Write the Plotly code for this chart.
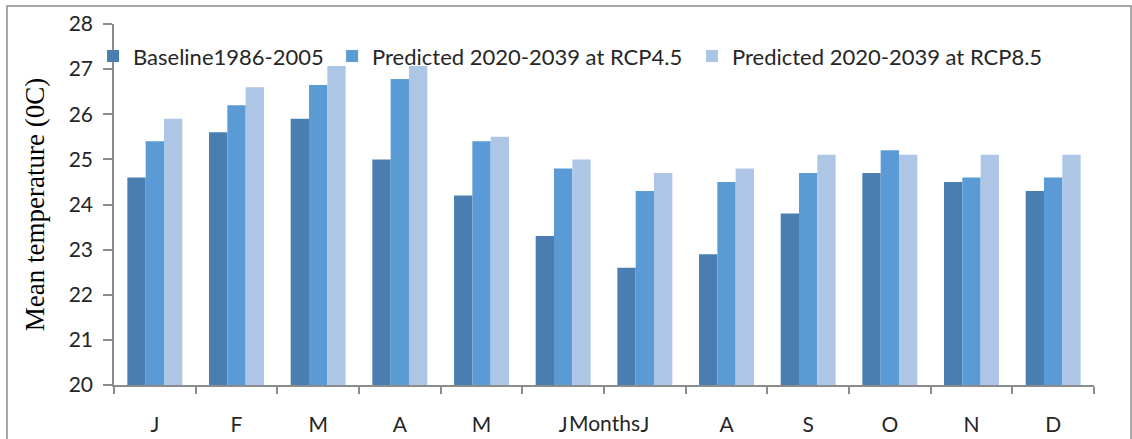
import plotly.graph_objects as go

# Monthly mean temperature (°C): baseline vs. projected scenarios
months = ["J", "F", "M", "A", "M", "J", "J", "A", "S", "O", "N", "D"]
baseline = [24.6, 25.6, 25.9, 25.0, 24.2, 23.3, 22.6, 22.9, 23.8, 24.7, 24.5, 24.3]
rcp45 = [25.4, 26.2, 26.65, 26.78, 25.4, 24.8, 24.3, 24.5, 24.7, 25.2, 24.6, 24.6]
rcp85 = [25.9, 26.6, 27.07, 27.07, 25.5, 25.0, 24.7, 24.8, 25.1, 25.1, 25.1, 25.1]
series_names = [
    "Baseline1986-2005",
    "Predicted 2020-2039 at RCP4.5",
    "Predicted 2020-2039 at RCP8.5",
]
y_ticks = [20, 21, 22, 23, 24, 25, 26, 27, 28]

colors = ["#4A7EB0", "#5B9BD5", "#ADC6E6"]
legend_ids = ["legend", "legend2", "legend3"]
legend_x = [-0.0214, 0.2225, 0.5898]
positions = list(range(len(months)))

axis_gray = "#8C8C8C"
text_col = "#262626"
sans = "Lato"

fig = go.Figure()
for name, vals, col, lg in zip(series_names, [baseline, rcp45, rcp85], colors, legend_ids):
    fig.add_trace(go.Bar(
        x=positions, y=vals, name=name, legend=lg,
        marker=dict(color=col, line=dict(width=0)),
    ))

# one single-entry legend per series, laid out in a row above the bars
legend_style = dict(
    orientation="h", xanchor="left", y=0.911, yanchor="middle",
    bgcolor="rgba(0,0,0,0)", borderwidth=0,
    font=dict(family=sans, size=22, color=text_col), itemwidth=30,
)
legends = {lg: dict(legend_style, x=lx) for lg, lx in zip(legend_ids, legend_x)}

fig.update_layout(
    width=1132, height=439,
    margin=dict(l=114, r=38, t=24, b=54),
    paper_bgcolor="white", plot_bgcolor="white",
    barmode="group", bargap=0.327, bargroupgap=0,
    font=dict(family=sans, size=20, color=text_col),
    showlegend=True,
    xaxis=dict(
        range=[-0.5, 11.5], tickmode="array", tickvals=positions, ticktext=months,
        ticks="", showline=True, linecolor=axis_gray, linewidth=1.5,
        showgrid=False, zeroline=False, automargin=False,
        tickfont=dict(family=sans, size=21, color=text_col),
        minor=dict(tickmode="linear", tick0=-0.5, dtick=1, ticks="outside",
                   ticklen=7, tickcolor=axis_gray, tickwidth=1.5, showgrid=False),
        ticklabelstandoff=20,
    ),
    yaxis=dict(
        range=[20, 28], tickmode="array", tickvals=y_ticks,
        ticks="outside", ticklen=9, tickcolor=axis_gray, tickwidth=1.5,
        showline=True, linecolor=axis_gray, linewidth=1.5,
        showgrid=False, zeroline=False, automargin=False,
        tickfont=dict(family=sans, size=21, color=text_col),
        ticklabelstandoff=6,
        title=dict(text="Mean temperature (0C)",
                   font=dict(family="Liberation Serif", size=27, color="#000000"),
                   standoff=16),
    ),
    annotations=[dict(
        text="Months", xref="paper", yref="paper", x=0.5, y=-0.105,
        xanchor="center", yanchor="middle", showarrow=False,
        font=dict(family=sans, size=21, color=text_col),
    )],
    shapes=[dict(
        type="rect", xref="paper", yref="paper",
        x0=-0.1092, x1=1.0378, y0=-0.17, y1=1.0499,
        line=dict(color="#8A8A8A", width=1.5), layer="below",
    )],
    **legends,
)

fig.write_html("out.html")
